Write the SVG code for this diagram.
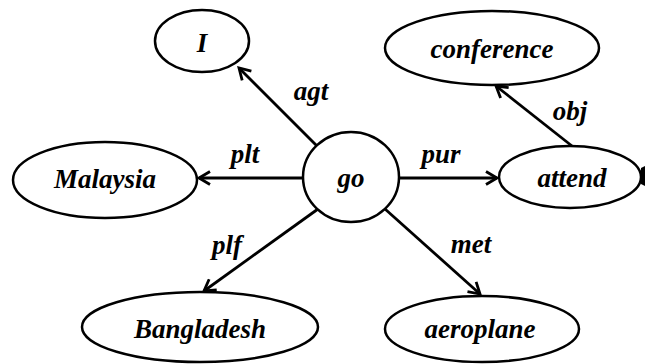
<svg xmlns="http://www.w3.org/2000/svg" width="645" height="364" viewBox="0 0 645 364">
<style>
.n{fill:#fff;stroke:#000;stroke-width:2.5}
.t{font-family:"Liberation Serif","Times New Roman",serif;font-weight:bold;font-style:italic;font-size:27px;fill:#000;text-anchor:middle}
.e{stroke:#000;stroke-width:2.8;fill:none;marker-end:url(#ah)}
</style>
<defs>
<marker id="ah" markerUnits="userSpaceOnUse" markerWidth="16" markerHeight="16" viewBox="0 0 16 16" refX="13" refY="8" orient="auto">
<path d="M2,1.5 L13,8 L2,14.5" fill="none" stroke="#000" stroke-width="2.8"/>
</marker>
</defs>
<rect width="645" height="364" fill="#fff"/>
<g id="connectors">
<line class="e" x1="317" y1="146" x2="239" y2="68"/>
<line class="e" x1="303" y1="178" x2="199" y2="178"/>
<line class="e" x1="399" y1="178" x2="497" y2="178"/>
<line class="e" x1="572" y1="146" x2="496" y2="86"/>
<line class="e" x1="318" y1="209" x2="204" y2="291"/>
<line class="e" x1="385" y1="209" x2="480" y2="294"/>
<text class="t" x="311" y="100">agt</text>
<text class="t" x="245" y="163">plt</text>
<text class="t" x="441" y="163">pur</text>
<text class="t" x="570" y="120">obj</text>
<text class="t" x="227" y="254">plf</text>
<text class="t" x="471" y="253">met</text>
</g>
<g id="go"><ellipse class="n" cx="351" cy="177" rx="48" ry="45"/><text class="t" x="351" y="187">go</text></g>
<g id="I"><ellipse class="n" cx="202" cy="41" rx="47" ry="31"/><text class="t" x="202" y="52">I</text></g>
<g id="conference"><ellipse class="n" cx="492" cy="48" rx="107" ry="37"/><text class="t" x="492" y="58">conference</text></g>
<g id="attend"><ellipse class="n" cx="570" cy="177" rx="71" ry="31"/><text class="t" x="572" y="187">attend</text></g>
<g id="Malaysia"><ellipse class="n" cx="105" cy="180" rx="92" ry="38"/><text class="t" x="105" y="188">Malaysia</text></g>
<g id="Bangladesh"><ellipse class="n" cx="200" cy="327" rx="118" ry="35"/><text class="t" x="200" y="338">Bangladesh</text></g>
<g id="aeroplane"><ellipse class="n" cx="482" cy="329" rx="97" ry="33"/><text class="t" x="480" y="338">aeroplane</text></g>
<path d="M641,168 L645,166 L645,186 L641,184 Z" fill="#000"/>
</svg>
